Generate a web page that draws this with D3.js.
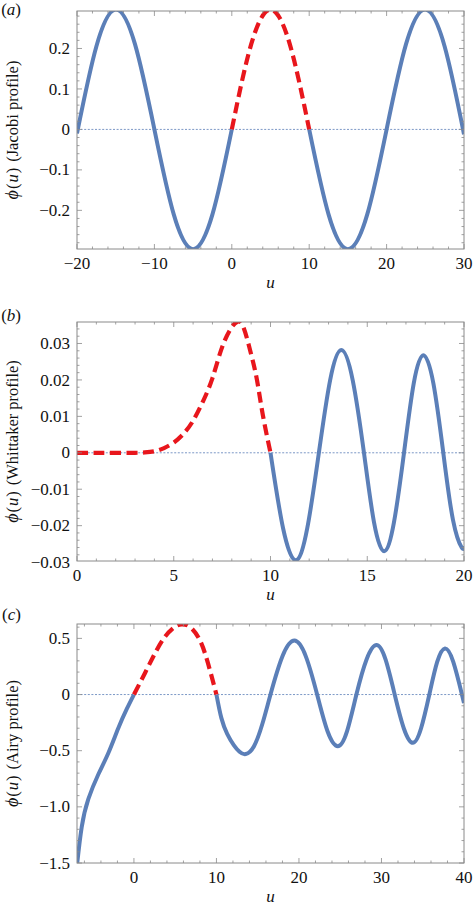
<!DOCTYPE html>
<html>
<head>
<meta charset="utf-8">
<script src="https://cdn.jsdelivr.net/npm/d3@7"></script>
<style>
body { margin:0; background:#fff; }
text { font-family:'Liberation Serif','Times New Roman',Times,serif; }
</style>
</head>
<body>
<svg></svg>
<script>
// (a) Jacobi profile
var jacobiU   = [-20,-17.5,-15,-12.5,-10,-7.5,-5,-2.5,0,2.5,5,7.5,10,12.5,15,17.5,20,22.5,25,27.5,30];
var jacobiPhi = [-0.01,0.205,0.296,0.21,0,-0.21,-0.296,-0.21,0,0.21,0.296,0.21,0,-0.21,-0.296,-0.21,0,0.21,0.296,0.205,-0.012];
var jacobiXTicks  = [-20,-10,0,10,20,30];
var jacobiXLabels = ["\u221220","\u221210","0","10","20","30"];
var jacobiYTicks  = [-0.2,-0.1,0,0.1,0.2];
var jacobiYLabels = ["\u22120.2","\u22120.1","0","0.1","0.2"];

// (b) Whittaker profile
var whitU   = [0,1,2,3,3.5,4,4.5,5,5.5,6,6.5,7,7.5,8,8.3,8.6,9,9.3,9.6,10,
               10.65,11.3,11.9,12.5,13.08,13.66,14.25,14.83,15.35,15.87,16.38,16.9,17.4,17.9,18.42,18.93,19.43,19.88,20];
var whitPhi = [0,0,0,0,0.0001,0.0004,0.0013,0.0028,0.0052,0.0088,0.014,0.0205,0.029,0.0345,0.036,0.0345,0.027,0.02,0.0105,0,
               -0.0207,-0.0295,-0.0207,0,0.0199,0.0282,0.0199,0,-0.0191,-0.027,-0.0191,0,0.019,0.0268,0.019,0,-0.0184,-0.026,-0.0256];
var whitXTicks  = [0,5,10,15,20];
var whitXLabels = ["0","5","10","15","20"];
var whitYTicks  = [-0.03,-0.02,-0.01,0,0.01,0.02,0.03];
var whitYLabels = ["\u22120.03","\u22120.02","\u22120.01","0","0.01","0.02","0.03"];

// (c) Airy profile
var airyU   = [-6.9,-6.33,-5.52,-4.31,-3.1,-1.9,-0.88,0,1.33,2.54,3.75,4.96,5.8,6.77,7.98,8.98,10,
               10.6,11.3,12.1,12.8,13.55,14.55,15.55,16.55,18.0,19.45,20.83,22.2,23.45,24.7,25.83,26.96,28.18,29.4,30.5,31.6,32.7,33.8,34.8,35.8,36.75,37.7,38.7,39.75,40];
var airyPhi = [-1.52,-1.18,-0.93,-0.71,-0.52,-0.3,-0.13,0,0.19,0.366,0.514,0.603,0.625,0.603,0.485,0.277,0,
               -0.21,-0.35,-0.45,-0.51,-0.53,-0.46,-0.265,0,0.34,0.48,0.34,0,-0.325,-0.46,-0.325,0,0.31,0.44,0.31,0,-0.3,-0.43,-0.3,0,0.29,0.41,0.29,0,-0.075];
var airyXTicks  = [0,10,20,30,40];
var airyXLabels = ["0","10","20","30","40"];
var airyYTicks  = [-1.5,-1.0,-0.5,0,0.5];
var airyYLabels = ["\u22121.5","\u22121.0","\u22120.5","0","0.5"];

// the stretch drawn red dashed in every panel
var redRange = [0,10];

var W = 474, H = 905;
var svg = d3.select("svg").attr("width", W).attr("height", H)
            .attr("font-family", "'Liberation Serif','Times New Roman',Times,serif");

var left = 77, right = 464;
var blue = "#5b7fb8", red = "#e8161c", frameCol = "#8a8a8a";

var drawPanel = function(p, idx)
{
  var x = d3.scaleLinear().domain(p.xDomain).range([left, right]);
  var y = d3.scaleLinear().domain(p.yDomain).range([p.bottom, p.top]);

  var g = svg.append("g");

  g.append("clipPath").attr("id", "clip" + idx)
   .append("rect")
   .attr("x", left).attr("y", p.top)
   .attr("width", right - left).attr("height", p.bottom - p.top);

  // dotted zero line
  g.append("line")
   .attr("x1", left).attr("x2", right)
   .attr("y1", y(0)).attr("y2", y(0))
   .attr("stroke", "#6d8cc0")
   .attr("stroke-width", 0.9)
   .attr("stroke-dasharray", "2,1.6");

  var pts = p.u.map(function(d, i) { return {u: d, phi: p.phi[i]}; });

  var line = d3.line()
               .x(function(d) { return x(d.u); })
               .y(function(d) { return y(d.phi); })
               .curve(d3.curveNatural);

  var leftPart  = pts.filter(function(d) { return d.u <= redRange[0]; });
  var midPart   = pts.filter(function(d) { return d.u >= redRange[0] && d.u <= redRange[1]; });
  var rightPart = pts.filter(function(d) { return d.u >= redRange[1]; });

  var plot = g.append("g").attr("clip-path", "url(#clip" + idx + ")");

  [leftPart, rightPart].forEach(function(seg) {
    if (seg.length < 2) return;
    plot.append("path")
        .datum(seg)
        .attr("d", line)
        .attr("fill", "none")
        .attr("stroke", blue)
        .attr("stroke-width", 4)
        .attr("stroke-linejoin", "round");
  });

  plot.append("path")
      .datum(midPart)
      .attr("d", line)
      .attr("fill", "none")
      .attr("stroke", red)
      .attr("stroke-width", 4.2)
      .attr("stroke-dasharray", "11,5.5");

  // frame
  g.append("rect")
   .attr("x", left).attr("y", p.top)
   .attr("width", right - left).attr("height", p.bottom - p.top)
   .attr("fill", "none")
   .attr("stroke", frameCol)
   .attr("stroke-width", 1);

  // ticks on all four sides, pointing inward
  var xMinor = d3.range(Math.ceil(p.xDomain[0] / p.xMinorStep) * p.xMinorStep, p.xDomain[1] + 1e-9, p.xMinorStep);
  var yMinor = d3.range(Math.ceil(p.yDomain[0] / p.yMinorStep) * p.yMinorStep, p.yDomain[1], p.yMinorStep);

  var tickG = g.append("g").attr("stroke", frameCol).attr("stroke-width", 0.8);

  xMinor.forEach(function(v) {
    var major = p.xTicks.some(function(t) { return Math.abs(t - v) < 1e-6; });
    var len = major ? 5 : 2.5;
    tickG.append("line").attr("x1", x(v)).attr("x2", x(v)).attr("y1", p.bottom).attr("y2", p.bottom - len);
    tickG.append("line").attr("x1", x(v)).attr("x2", x(v)).attr("y1", p.top).attr("y2", p.top + len);
  });
  yMinor.forEach(function(v) {
    var major = p.yTicks.some(function(t) { return Math.abs(t - v) < 1e-6; });
    var len = major ? 5 : 2.5;
    tickG.append("line").attr("y1", y(v)).attr("y2", y(v)).attr("x1", left).attr("x2", left + len);
    tickG.append("line").attr("y1", y(v)).attr("y2", y(v)).attr("x1", right).attr("x2", right - len);
  });

  // tick labels
  g.selectAll(".xl")
   .data(p.xTicks)
   .enter()
   .append("text")
   .attr("x", function(d) { return x(d); })
   .attr("y", p.bottom + 19.5)
   .attr("text-anchor", "middle")
   .attr("font-size", 17)
   .attr("fill", "#111")
   .text(function(d, i) { return p.xLabels[i]; });

  g.selectAll(".yl")
   .data(p.yTicks)
   .enter()
   .append("text")
   .attr("x", 70)
   .attr("y", function(d) { return y(d); })
   .attr("dy", "0.33em")
   .attr("text-anchor", "end")
   .attr("font-size", 17)
   .attr("fill", "#111")
   .text(function(d, i) { return p.yLabels[i]; });

  // axis titles
  g.append("text")
   .attr("x", (left + right) / 2)
   .attr("y", p.bottom + 39)
   .attr("text-anchor", "middle")
   .attr("font-size", 17)
   .attr("font-style", "italic")
   .attr("fill", "#111")
   .text("u");

  var yt = g.append("text")
            .attr("transform", "translate(18," + (p.top + p.bottom) / 2 + ") rotate(-90)")
            .attr("text-anchor", "middle")
            .attr("font-size", 16.5)
            .attr("fill", "#111");
  yt.append("tspan").attr("font-style", "italic").attr("font-size", 18).text("\u03D5");
  yt.append("tspan").attr("dx", 1).text("(");
  yt.append("tspan").attr("font-style", "italic").attr("dx", 1).text("u");
  yt.append("tspan").attr("dx", 1).text(")");
  yt.append("tspan").attr("dx", 6).text("(" + p.name + " profile)");

  var pl = g.append("text")
            .attr("x", 21)
            .attr("y", p.letterY)
            .attr("text-anchor", "end")
            .attr("font-size", 17)
            .attr("fill", "#111");
  pl.append("tspan").text("(");
  pl.append("tspan").attr("font-style", "italic").text(p.letter);
  pl.append("tspan").text(")");
}

drawPanel({
  top: 11, bottom: 249, xDomain: [-20, 30], yDomain: [-0.2955, 0.2926],
  u: jacobiU, phi: jacobiPhi,
  xTicks: jacobiXTicks, xLabels: jacobiXLabels, xMinorStep: 2,
  yTicks: jacobiYTicks, yLabels: jacobiYLabels, yMinorStep: 0.02,
  name: "Jacobi", letter: "a", letterY: 15
}, 0);

drawPanel({
  top: 322, bottom: 561, xDomain: [0, 20], yDomain: [-0.0297, 0.0359],
  u: whitU, phi: whitPhi,
  xTicks: whitXTicks, xLabels: whitXLabels, xMinorStep: 1,
  yTicks: whitYTicks, yLabels: whitYLabels, yMinorStep: 0.002,
  name: "Whittaker", letter: "b", letterY: 321
}, 1);

drawPanel({
  top: 624, bottom: 863, xDomain: [-6.9, 40], yDomain: [-1.5, 0.628],
  u: airyU, phi: airyPhi,
  xTicks: airyXTicks, xLabels: airyXLabels, xMinorStep: 2,
  yTicks: airyYTicks, yLabels: airyYLabels, yMinorStep: 0.1,
  name: "Airy", letter: "c", letterY: 620
}, 2);
</script>
</body>
</html>
